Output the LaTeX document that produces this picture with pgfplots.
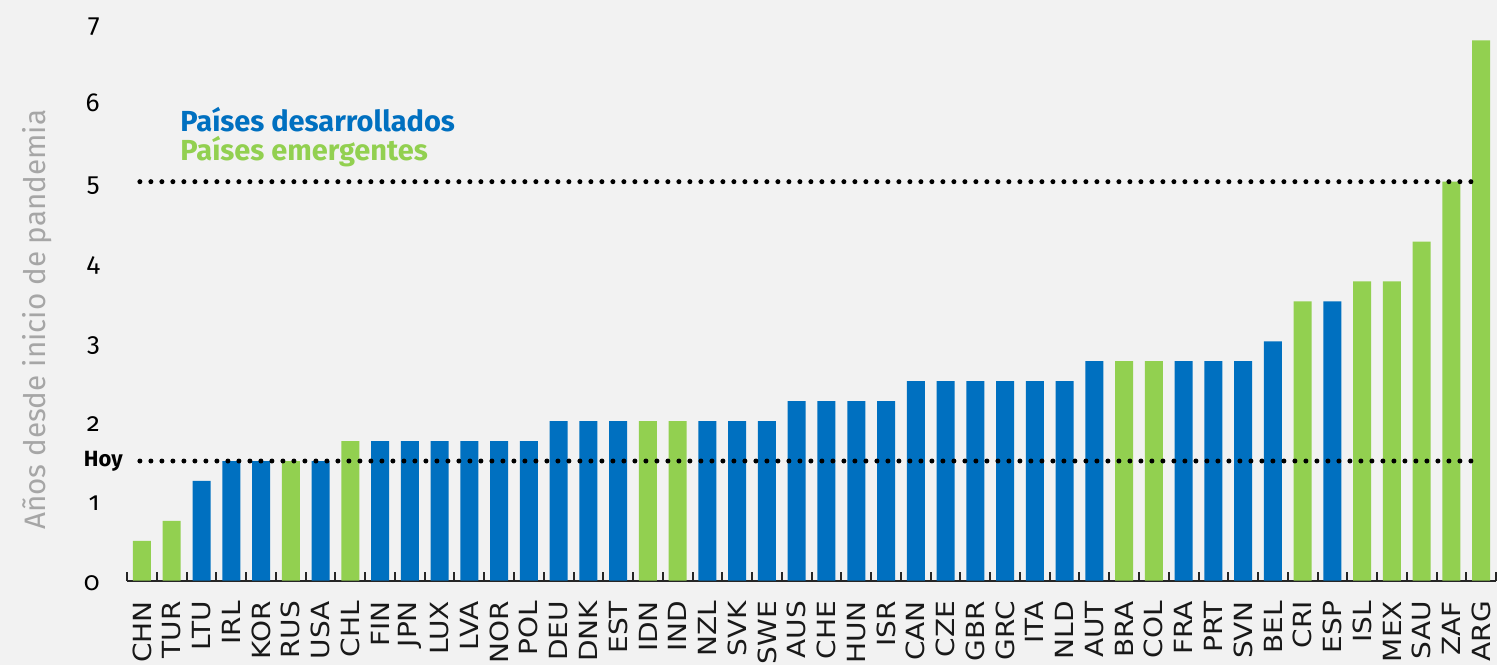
\documentclass[border=0pt]{standalone}
\usepackage{pgfplots}
\pgfplotsset{compat=1.18}
\usepackage{fontspec}
\setmainfont{Fira Sans}
\newfontfamily\oldnum[Numbers=OldStyle]{Fira Sans}
\newfontfamily\dvs[FakeStretch=1.12]{DejaVu Sans}
\definecolor{bg}{HTML}{F2F2F2}
\definecolor{dev}{HTML}{0070C0}
\definecolor{emg}{HTML}{92D050}
\definecolor{ylab}{HTML}{A6A6A6}
\begin{document}
\begin{tikzpicture}
% fondo y tamano total (1 px = 0.5 pt)
\path[use as bounding box, fill=bg] (-63.55pt,-42.15pt) rectangle (684.95pt,290.35pt);
\begin{axis}[
    scale only axis,
    width=684.5pt,
    height=287.3pt,
    xmin=-0.5, xmax=45.5,
    ymin=0, ymax=7.2,
    clip=false,
    axis lines*=left,
    y axis line style={draw=none},
    x axis line style={line width=1pt, black!85},
    xtick={0,...,45},
    xticklabels={CHN,TUR,LTU,IRL,KOR,RUS,USA,CHL,FIN,JPN,LUX,LVA,NOR,POL,DEU,DNK,EST,IDN,IND,NZL,SVK,SWE,AUS,CHE,HUN,ISR,CAN,CZE,GBR,GRC,ITA,NLD,AUT,BRA,COL,FRA,PRT,SVN,BEL,CRI,ESP,ISL,MEX,SAU,ZAF,ARG},
    minor xtick={-0.5,0.5,...,45.5},
    major tick length=0pt,
    minor tick length=4.5pt,
    tick align=inside,
    minor tick style={line width=1pt, black!85},
    xticklabel style={yshift=-10pt, rotate=90, anchor=east, inner sep=0pt,
        font=\dvs\fontsize{12.5}{12.5}\selectfont, text=black!90},
    ytick={0,...,7},
    yticklabels={0,1,2,3,4,5,6,7},
    yticklabel style={anchor=base east, inner sep=0pt, xshift=-13.5pt, yshift=-5pt,
        font=\oldnum\fontsize{13}{13}\selectfont},
]

% Paises desarrollados
\addplot[ybar, bar width=9pt, bar shift=0pt, fill=dev, draw=none] coordinates {
    (2,1.25) (3,1.5) (4,1.5) (6,1.5)
    (8,1.75) (9,1.75) (10,1.75) (11,1.75) (12,1.75) (13,1.75)
    (14,2) (15,2) (16,2) (19,2) (20,2) (21,2)
    (22,2.25) (23,2.25) (24,2.25) (25,2.25)
    (26,2.5) (27,2.5) (28,2.5) (29,2.5) (30,2.5) (31,2.5)
    (32,2.75) (35,2.75) (36,2.75) (37,2.75)
    (38,3) (40,3.5)
};

% Paises emergentes
\addplot[ybar, bar width=9pt, bar shift=0pt, fill=emg, draw=none] coordinates {
    (0,0.5) (1,0.75) (5,1.5) (7,1.75) (17,2) (18,2)
    (33,2.75) (34,2.75) (39,3.5) (41,3.75) (42,3.75)
    (43,4.25) (44,5) (45,6.77)
};

% lineas punteadas
\addplot[black, line width=2.5pt, line cap=round, dash pattern=on 0pt off 5.5pt]
    coordinates {(-0.07,5) (44.83,5)};
\addplot[black, line width=2.5pt, line cap=round, dash pattern=on 0pt off 5.5pt]
    coordinates {(-0.07,1.5) (44.83,1.5)};

\node[anchor=east, inner sep=0pt, font=\bfseries\fontsize{11}{11}\selectfont]
    at ([xshift=-2pt]axis cs:-0.5,1.5) {Hoy};

\node[anchor=base west, inner sep=0pt, text=dev, font=\bfseries\fontsize{14.5}{14.5}\selectfont]
    at (axis cs:1.28,5.63) {Países desarrollados};
\node[anchor=base west, inner sep=0pt, text=emg, font=\bfseries\fontsize{14.5}{14.5}\selectfont]
    at (axis cs:1.28,5.26) {Países emergentes};

\node[rotate=90, text=ylab, font=\fontsize{14.8}{14.8}\selectfont]
    at ([xshift=-45pt]axis cs:-0.5,3.27) {Años desde inicio de pandemia};

\end{axis}
\end{tikzpicture}
\end{document}
